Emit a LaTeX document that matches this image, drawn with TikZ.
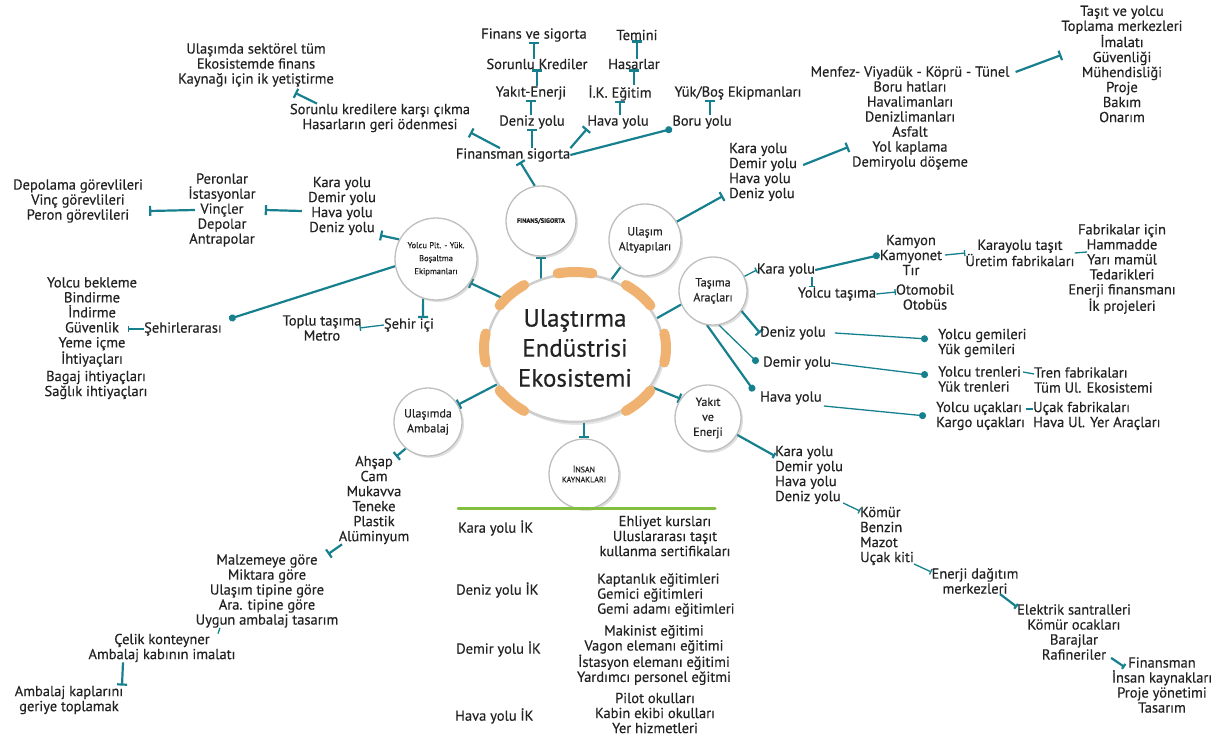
\documentclass[tikz,border=0pt]{standalone}
\usepackage{fontspec}
\setmainfont{PT Sans}[FakeBold=0.4]
\usetikzlibrary{arrows.meta,shapes.geometric,shadows,backgrounds}
\definecolor{cam}{RGB}{22,128,142}
\definecolor{turuncu}{RGB}{240,178,112}
\definecolor{cember}{RGB}{190,190,190}
\definecolor{halka}{RGB}{205,205,205}
\definecolor{yesil}{RGB}{132,190,62}
\definecolor{metin}{RGB}{35,35,35}
\tikzset{
	yazi/.style={font=\fontsize{14.5}{15}\selectfont, align=center, inner sep=0pt, text=metin},
	yazisol/.style={yazi, align=left, anchor=west},
	daire/.style={circle, draw=cember, line width=1.3pt, fill=white, inner sep=0pt, text=metin, align=center,
		font=\fontsize{12}{15}\selectfont, drop shadow={opacity=.25, shadow xshift=2pt, shadow yshift=-2pt}},
	bag/.style={draw=cam, line width=2.2pt},
	ince/.style={draw=cam, line width=1.3pt},
	tbar/.style={-{Bar[width=10pt]}},
	tnok/.style={-{Circle[length=7pt]}},
	kbar/.style={-{Bar[width=6pt]}}
}

\begin{document}
\begin{tikzpicture}[x=1pt,y=-1pt]
	\useasboundingbox (0,0) rectangle (1223,738);

	\node[ellipse, draw=halka, line width=2.5pt, fill=white, inner sep=0pt, minimum width=176pt, minimum height=148pt,
		text=metin, align=center, font=\fontsize{25}{30}\selectfont,
		drop shadow={opacity=.2, shadow xshift=2pt, shadow yshift=-3pt}] (merkez) at (575,348) {Ulaştırma\\Endüstrisi\\Ekosistemi};
	\foreach \a in {0,45,90,135,180,225,315}
		\draw[turuncu, line width=10pt, line cap=round] ([shift={(\a-11:91pt and 76pt)}]merkez.center)
			arc[start angle=\a-11, end angle=\a+11, x radius=91pt, y radius=76pt];

	\node[daire, minimum size=70pt, font=\fontsize{6.5}{8}\selectfont\bfseries] (finans) at (541,221) {FINANS/SIGORTA};
	\node[daire, minimum size=72pt] (altyapi) at (645,240) {Ulaşım\\Altyapıları};
	\node[daire, minimum size=68pt] (tasima) at (713,291) {Taşıma\\Araçları};
	\node[daire, minimum size=66pt] (yakit) at (708,418) {Yakıt\\ve\\Enerji};
	\node[daire, minimum size=70pt, font=\fontsize{8}{10}\selectfont] (insan) at (584,474) {İNSAN\\KAYNAKLARI};
	\node[daire, minimum size=68pt] (ambalaj) at (428,422) {Ulaşımda\\Ambalaj};
	\node[daire, minimum size=82pt, font=\fontsize{8.5}{13}\selectfont] (yolcuplt) at (436,259) {Yolcu Plt. - Yük.\\Boşaltma\\Ekipmanları};

	\node[yazi] (ikyet) at (256,65) {Ulaşımda sektörel tüm\\Ekosistemde finans\\Kaynağı için ik yetiştirme};
	\node[yazi] (sorkred) at (380,118) {Sorunlu kredilere karşı çıkma\\Hasarların geri ödenmesi};
	\node[yazi] (finsig) at (513,155) {Finansman sigorta};
	\node[yazi] (fdeniz) at (532,122) {Deniz yolu};
	\node[yazi] (fyakit) at (531,93) {Yakıt-Enerji};
	\node[yazi] (fsorun) at (537,64) {Sorunlu Krediler};
	\node[yazi] (fvesig) at (534,35) {Finans ve sigorta};
	\node[yazi] (ftemin) at (637,35) {Temini};
	\node[yazi] (fhasar) at (634,64) {Hasarlar};
	\node[yazi] (fik) at (620,93) {İ.K. Eğitim};
	\node[yazi] (fhava) at (618,122) {Hava yolu};
	\node[yazi] (fboru) at (702,122) {Boru yolu};
	\node[yazi] (fyuk) at (738,93) {Yük/Boş Ekipmanları};

	\node[yazisol] (ayollar) at (729,172) {Kara yolu\\Demir yolu\\Hava yolu\\Deniz yolu};
	\node[yazi] (menfez) at (910,118) {Menfez- Viyadük - Köprü - Tünel\\Boru hatları\\Havalimanları\\Denizlimanları\\Asfalt\\Yol kaplama\\Demiryolu döşeme};
	\node[yazi] (tasit) at (1122,64) {Taşıt ve yolcu\\Toplama merkezleri\\İmalatı\\Güvenliği\\Mühendisliği\\Proje\\Bakım\\Onarım};

	\node[yazi] (tkara) at (786,270) {Kara yolu};
	\node[yazi] (kamyon) at (911,255) {Kamyon\\Kamyonet\\Tır};
	\node[yazi] (karatasit) at (1020,253) {Karayolu taşıt\\Üretim fabrikaları};
	\node[yazi] (fabrika) at (1122,269) {Fabrikalar için\\Hammadde\\Yarı mamül\\Tedarikleri\\Enerji finansmanı\\İk projeleri};
	\node[yazi] (yolcutas) at (837,294) {Yolcu taşıma};
	\node[yazi] (otomobil) at (925,297) {Otomobil\\Otobüs};
	\node[yazisol] (tdeniz) at (760,333) {Deniz yolu};
	\node[yazisol] (gemi) at (938,343) {Yolcu gemileri\\Yük gemileri};
	\node[yazisol] (tdemir) at (763,363) {Demir yolu};
	\node[yazisol] (tren) at (938,379) {Yolcu trenleri\\Yük trenleri};
	\node[yazisol] (trenfab) at (1034,380) {Tren fabrikaları\\Tüm Ul. Ekosistemi};
	\node[yazisol] (thava) at (760,398) {Hava yolu};
	\node[yazisol] (ucak) at (936,416) {Yolcu uçakları\\Kargo uçakları};
	\node[yazisol] (ucakfab) at (1033,416) {Uçak fabrikaları\\Hava Ul. Yer Araçları};

	\node[yazisol] (eyollar) at (775,475) {Kara yolu\\Demir yolu\\Hava yolu\\Deniz yolu};
	\node[yazisol] (komur) at (860,536) {Kömür\\Benzin\\Mazot\\Uçak kiti};
	\node[yazi] (enerji) at (975,581) {Enerji dağıtım\\merkezleri};
	\node[yazi] (elektrik) at (1074,632) {Elektrik santralleri\\Kömür ocakları\\Barajlar\\Rafineriler};
	\node[yazi] (finans2) at (1162,685) {Finansman\\İnsan kaynakları\\Proje yönetimi\\Tasarım};

	\node[yazisol] (ikkara) at (458,528) {Kara yolu İK};
	\node[yazi] (ehliyet) at (665,536) {Ehliyet kursları\\Uluslararası taşıt\\kullanma sertifikaları};
	\node[yazisol] (ikdeniz) at (456,590) {Deniz yolu İK};
	\node[yazisol] (kaptan) at (597,595) {Kaptanlık eğitimleri\\Gemici eğitimleri\\Gemi adamı eğitimleri};
	\node[yazisol] (ikdemir) at (456,649) {Demir yolu İK};
	\node[yazi] (makinist) at (654,655) {Makinist eğitimi\\Vagon elemanı eğitimi\\İstasyon elemanı eğitimi\\Yardımcı personel eğitmi};
	\node[yazisol] (ikhava) at (455,716) {Hava yolu İK};
	\node[yazi] (pilot) at (655,713) {Pilot okulları\\Kabin ekibi okulları\\Yer hizmetleri};

	\node[yazi] (ahsap) at (374,500) {Ahşap\\Cam\\Mukavva\\Teneke\\Plastik\\Alüminyum};
	\node[yazi] (malzeme) at (267,591) {Malzemeye göre\\Miktara göre\\Ulaşım tipine göre\\Ara. tipine göre\\Uygun ambalaj tasarım};
	\node[yazi] (celik) at (162,648) {Çelik konteyner\\Ambalaj kabının imalatı};
	\node[yazi] (kaplar) at (69,700) {Ambalaj kaplarını\\geriye toplamak};

	\node[yazi] (pyollar) at (342,206) {Kara yolu\\Demir yolu\\Hava yolu\\Deniz yolu};
	\node[yazi] (peron) at (222,210) {Peronlar\\İstasyonlar\\Vinçler\\Depolar\\Antrapolar};
	\node[yazi] (depolama) at (78,201) {Depolama görevlileri\\Vinç görevlileri\\Peron görevlileri};
	\node[yazi] (sehirler) at (183,329) {Şehirlerarası};
	\node[yazi] (bekleme) at (92,322) {Yolcu bekleme\\Bindirme\\İndirme\\Güvenlik\\Yeme içme\\İhtiyaçları};
	\node[yazi] (bagaj) at (96,385) {Bagaj ihtiyaçları\\Sağlık ihtiyaçları};
	\node[yazi] (sehirici) at (409,325) {Şehir içi};
	\node[yazi] (toplu) at (322,328) {Toplu taşıma\\Metro};

	\draw[yesil, line width=3pt, line cap=round] (458,508) -- (715,508);

	\begin{scope}[on background layer]
		\draw[bag,tbar] (finans.south |- merkez.center) -- (finans.south);
		\draw[bag] (merkez.62) -- (altyapi.228);
		\draw[bag] (merkez.20) -- (tasima.203);
		\draw[bag,tbar] (merkez.-27) -- (yakit.145);
		\draw[bag,tbar] (insan.north |- merkez.center) -- (insan.north);
		\draw[bag,tbar] (merkez.205) -- (ambalaj.30);
		\draw[bag,tbar] (merkez.145) -- (yolcuplt.-35);

		\draw[bag,tbar] (finans.100) -- ([xshift=7pt]finsig.south);
		\draw[bag,tbar] (fdeniz.south |- finsig.north) -- (fdeniz.south);
		\draw[bag,tbar] (fyakit.south |- fdeniz.north) -- (fyakit.south);
		\draw[bag,tbar] (fsorun.south |- fyakit.north) -- (fsorun.south);
		\draw[bag,tbar] (fvesig.south |- fsorun.north) -- (fvesig.south);
		\draw[bag,tbar] (fik.south |- fhava.north) -- (fik.south);
		\draw[bag,tbar] (fhasar.south |- fik.north) -- (fhasar.south);
		\draw[bag,tbar] (ftemin.south |- fhasar.north) -- (ftemin.south);
		\draw[bag,tbar] ([xshift=8pt]fboru.north) -- ([xshift=8pt]fboru.north |- fyuk.south);
		\draw[bag,tbar] (finsig.north east) -- (fhava.south west);
		\draw[bag,tnok] (finsig.east) -- (fboru.south west);
		\draw[bag,tbar] ([xshift=-13pt]finsig.north) -- (sorkred.south east);
		\draw[bag,tbar] ([xshift=-63pt]sorkred.north) -- ([xshift=39pt,yshift=-6pt]ikyet.south);

		\draw[bag,tbar] (altyapi.30) -- ([xshift=-6pt,yshift=-24pt]ayollar.west);
		\draw[bag,tbar] ([xshift=6pt,yshift=7pt]ayollar.east) -- ([xshift=38pt,yshift=-29pt]menfez.west);
		\draw[bag,tbar] ([xshift=6pt,yshift=46pt]menfez.east) -- ([yshift=9pt]tasit.west);

		\draw[ince,kbar] (tasima.25) -- (tkara.west);
		\draw[bag,tnok] (tkara.east) -- (kamyon.west);
		\draw[ince,kbar] ([xshift=3pt]kamyon.east) -- (karatasit.west);
		\draw[ince] (karatasit.east) -- ([xshift=-35pt,yshift=17pt]fabrika.center);
		\draw[ince,kbar] ([xshift=26pt]tkara.south) -- ([xshift=-25pt]yolcutas.north);
		\draw[ince,kbar] (yolcutas.east) -- ([yshift=5pt]otomobil.west);
		\draw[bag,tbar] (tasima.-35) -- (tdeniz.west);
		\draw[ince,tnok] ([xshift=9pt]tdeniz.east) -- ([xshift=-10pt,yshift=4pt]gemi.west);
		\draw[ince,tnok] (tasima.-80) -- ([xshift=-5pt]tdemir.west);
		\draw[ince,tnok] (tdemir.east) -- ([xshift=-10pt,yshift=4pt]tren.west);
		\draw[ince] ([xshift=2pt,yshift=7pt]tren.east) -- ([yshift=6pt]trenfab.west);
		\draw[bag,tnok] (tasima.-100) -- ([xshift=-6pt,yshift=7pt]thava.west);
		\draw[ince,tnok] ([xshift=2pt,yshift=-8pt]thava.east) -- ([xshift=-10pt]ucak.west);
		\draw[ince] ([xshift=1pt,yshift=7pt]ucak.east) -- ([yshift=7pt]ucakfab.west);

		\draw[bag,kbar] (yakit.-30) -- ([yshift=19pt]eyollar.west);
		\draw[ince,kbar] ([yshift=-28pt]eyollar.east) -- ([yshift=25pt]komur.west);
		\draw[ince,kbar] ([yshift=-28pt]komur.east) -- ([yshift=9pt]enerji.west);
		\draw[bag,kbar] ([xshift=25pt]enerji.south) -- ([yshift=25pt]elektrik.west);
		\draw[bag,kbar] ([xshift=-20pt,yshift=2pt]elektrik.south east) -- ([xshift=13pt,yshift=18pt]finans2.west);

		\draw[bag,tbar] (ambalaj.-130) -- ([xshift=22pt,yshift=-1pt]ahsap.north);
		\draw[bag,tbar] ([xshift=-32pt]ahsap.south) -- ([xshift=61pt]malzeme.north);
		\draw[ince] ([xshift=-47pt]malzeme.south) -- ([xshift=56pt]celik.north);
		\draw[bag,tbar] ([xshift=-39pt]celik.south) -- ([xshift=53pt]kaplar.north);

		\draw[bag,tbar] (yolcuplt.152) -- ([xshift=4pt]pyollar.south east);
		\draw[bag,tbar] ([xshift=-6pt,yshift=-5pt]pyollar.west) -- ([xshift=9pt]peron.east);
		\draw[bag,tbar] ([xshift=-27pt]peron.center) -- ([xshift=6pt,yshift=-10pt]depolama.east);
		\draw[bag,tnok] (yolcuplt.190) -- ([xshift=7pt,yshift=10pt]sehirler.east);
		\draw[ince,kbar] (sehirler.west) -- ([xshift=36pt,yshift=-7pt]bekleme.center);
		\draw[bag,tbar] (yolcuplt.-108) -- ([xshift=14pt]sehirici.north);
		\draw[ince,kbar] (sehirici.west) -- ([xshift=-2pt]toplu.east);
	\end{scope}
\end{tikzpicture}
\end{document}
